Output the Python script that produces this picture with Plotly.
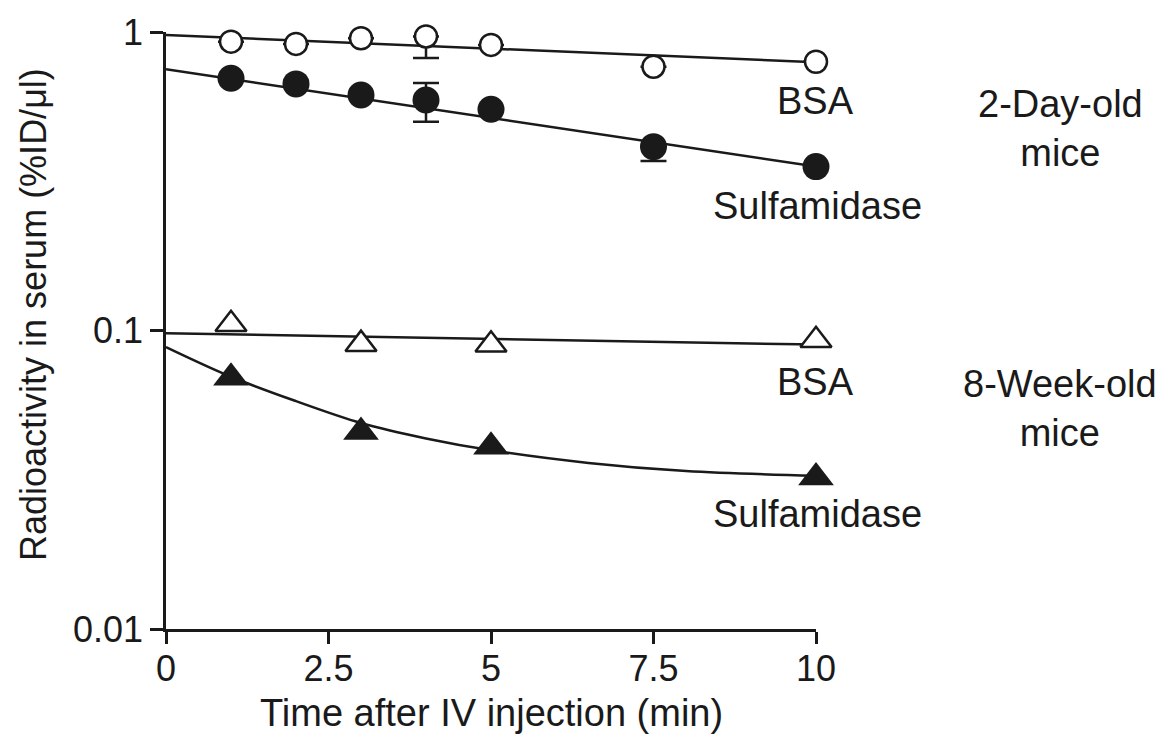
import plotly.graph_objects as go

# ---------------- data ----------------
t_bsa_2d = [1, 2, 3, 4, 5, 7.5, 10]
v_bsa_2d = [0.928, 0.912, 0.953, 0.966, 0.905, 0.765, 0.795]
err_bsa_2d_plus = [None, None, None, 0.0, None, None, None]
err_bsa_2d_minus = [None, None, None, 0.148, None, None, None]

t_sulf_2d = [1, 2, 3, 4, 5, 7.5, 10]
v_sulf_2d = [0.700, 0.670, 0.615, 0.592, 0.551, 0.413, 0.354]
err_sulf_2d_plus = [None, None, None, 0.083, None, 0.0, None]
err_sulf_2d_minus = [None, None, None, 0.092, None, 0.043, None]

t_bsa_8w = [1, 3, 5, 10]
v_bsa_8w = [0.1049, 0.0900, 0.0896, 0.0928]

t_sulf_8w = [1, 3, 5, 10]
v_sulf_8w = [0.0694, 0.0457, 0.0408, 0.0322]

# fitted lines / curve
fit_bsa_2d_t = [0, 10]
fit_bsa_2d_v = [0.977, 0.792]
fit_sulf_2d_t = [0, 10]
fit_sulf_2d_v = [0.750, 0.354]
fit_bsa_8w_t = [0, 10]
fit_bsa_8w_v = [0.0979, 0.0897]
fit_sulf_8w_t = [0, 1, 2, 3, 4, 5, 6.5, 8, 10]
fit_sulf_8w_v = [0.088, 0.070, 0.058, 0.049, 0.0435, 0.0397, 0.036, 0.0338, 0.0326]

x_tickvals = [0, 2.5, 5, 7.5, 10]
x_ticktext = ["0", "2.5", "5", "7.5", "10"]
y_tickvals = [0.01, 0.1, 1]
y_ticktext = ["0.01", "0.1", "1"]

# ---------------- styling ----------------
INK = "#1a1a1a"
FONT = "Liberation Sans, Arial, Helvetica, sans-serif"
LW = 2.5

W, H = 1164, 735
L, R, T, B = 166, 348, 32, 106
PW, PH = W - L - R, H - T - B


def px(xp):
    return (xp - L) / PW


def py(yp):
    return (H - B - yp) / PH


fig = go.Figure()

# fit lines first
for tt, vv, shape in [
    (fit_bsa_2d_t, fit_bsa_2d_v, "linear"),
    (fit_sulf_2d_t, fit_sulf_2d_v, "linear"),
    (fit_bsa_8w_t, fit_bsa_8w_v, "linear"),
    (fit_sulf_8w_t, fit_sulf_8w_v, "spline"),
]:
    fig.add_trace(go.Scatter(
        x=tt, y=vv, mode="lines",
        line=dict(color=INK, width=LW, shape=shape, smoothing=1.0),
        showlegend=False, hoverinfo="skip", cliponaxis=False,
    ))

err_style = dict(type="data", symmetric=False, color=INK, thickness=LW, width=13)

# 2-day-old BSA (open circles)
fig.add_trace(go.Scatter(
    x=t_bsa_2d, y=v_bsa_2d, mode="markers", name="BSA (2-day-old)",
    marker=dict(symbol="circle", size=22, color="white", line=dict(color=INK, width=LW)),
    error_y=dict(array=err_bsa_2d_plus, arrayminus=err_bsa_2d_minus, **err_style),
    showlegend=False, cliponaxis=False,
))
# 2-day-old Sulfamidase (filled circles)
fig.add_trace(go.Scatter(
    x=t_sulf_2d, y=v_sulf_2d, mode="markers", name="Sulfamidase (2-day-old)",
    marker=dict(symbol="circle", size=27, color=INK, line=dict(color=INK, width=0)),
    error_y=dict(array=err_sulf_2d_plus, arrayminus=err_sulf_2d_minus, **err_style),
    showlegend=False, cliponaxis=False,
))
# 8-week-old BSA (open triangles)
fig.add_trace(go.Scatter(
    x=t_bsa_8w, y=v_bsa_8w, mode="markers", name="BSA (8-week-old)",
    marker=dict(symbol="triangle-up", size=27, color="white", line=dict(color=INK, width=LW)),
    showlegend=False, cliponaxis=False,
))
# 8-week-old Sulfamidase (filled triangles)
fig.add_trace(go.Scatter(
    x=t_sulf_8w, y=v_sulf_8w, mode="markers", name="Sulfamidase (8-week-old)",
    marker=dict(symbol="triangle-up", size=31, color=INK, line=dict(color=INK, width=0)),
    showlegend=False, cliponaxis=False,
))

ann_font = dict(family=FONT, size=38, color=INK)
annotations = [
    dict(text="BSA", x=px(815), y=py(101)),
    dict(text="Sulfamidase", x=px(817), y=py(206)),
    dict(text="2-Day-old<br>mice", x=px(1060), y=py(128)),
    dict(text="BSA", x=px(815), y=py(382)),
    dict(text="Sulfamidase", x=px(817), y=py(514)),
    dict(text="8-Week-old<br>mice", x=px(1060), y=py(408)),
    dict(text="Time after IV injection (min)", x=px(491), y=py(713)),
    dict(text="Radioactivity in serum (%ID/\u03bcl)", x=px(33), y=py(315), textangle=-90,
         font=dict(family=FONT, size=36, color=INK)),
]
for a in annotations:
    a.update(xref="paper", yref="paper", xanchor="center", yanchor="middle", showarrow=False)
    a.setdefault("font", ann_font)

axis_common = dict(
    showgrid=False, zeroline=False, showline=True, linecolor=INK, linewidth=LW,
    ticks="outside", tickcolor=INK, tickwidth=LW,
    tickfont=dict(family=FONT, size=36, color=INK),
    mirror=False,
)

fig.update_layout(
    width=W, height=H,
    margin=dict(l=L, r=R, t=T, b=B, pad=0),
    paper_bgcolor="white", plot_bgcolor="white",
    font=dict(family=FONT, color=INK),
    xaxis=dict(range=[0, 10], tickmode="array", tickvals=x_tickvals, ticktext=x_ticktext,
               ticklen=12, ticklabelstandoff=-6, **axis_common),
    yaxis=dict(type="log", range=[-2, 0], tickmode="array", tickvals=y_tickvals,
               ticktext=y_ticktext, ticklen=13, **axis_common),
    annotations=annotations,
    showlegend=False,
)

fig.write_html("out.html")
